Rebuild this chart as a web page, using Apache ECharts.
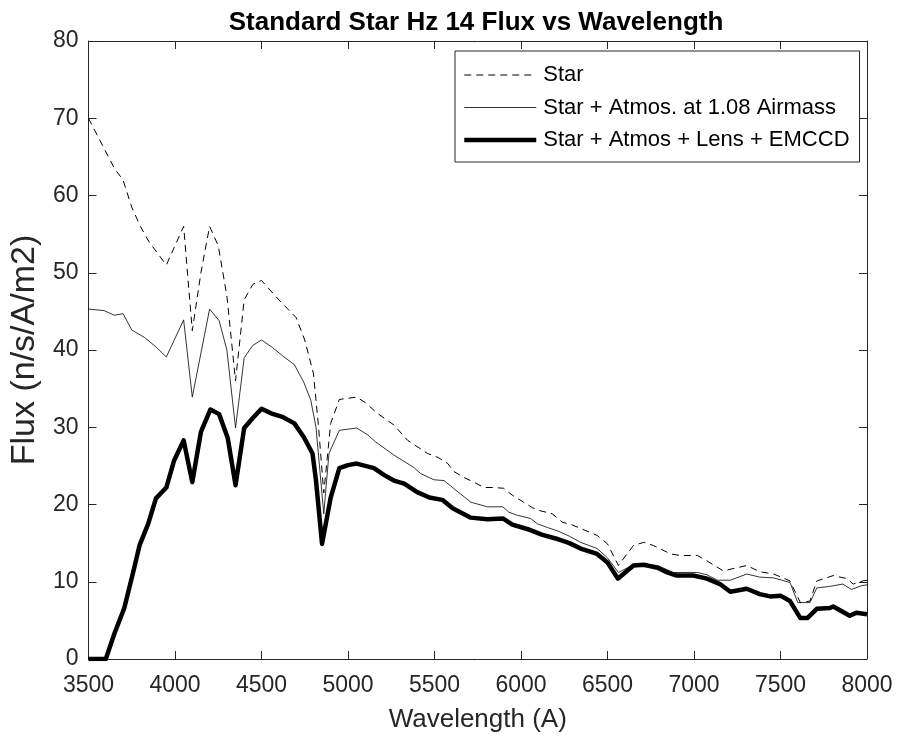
<!DOCTYPE html>
<html>
<head>
<meta charset="utf-8">
<script src="https://cdn.jsdelivr.net/npm/echarts@6/dist/echarts.min.js"></script>
<style>html,body{margin:0;padding:0;background:#fff}#c{width:899px;height:738px}</style>
</head>
<body>
<div id="c"></div>
<script>
const titleText = 'Standard Star Hz 14 Flux vs Wavelength';
const xName = 'Wavelength (A)';
const yName = 'Flux (n/s/A/m2)';
const seriesNames = ['Star', 'Star + Atmos. at 1.08 Airmass', 'Star + Atmos + Lens + EMCCD'];
const xTicks = [3500, 4000, 4500, 5000, 5500, 6000, 6500, 7000, 7500, 8000];
const yTicks = [0, 10, 20, 30, 40, 50, 60, 70, 80];

const starWl = [3500,3650,3700,3750,3800,3850,3900,3950,4000,4050,4100,4150,4200,4250,4300,4350,4400,4450,4500,4600,4700,4750,4800,4830,4860,4900,4950,5050,5100,5170,5265,5345,5460,5520,5577,5610,5670,5727,5785,5840,5900,5950,6015,6065,6110,6180,6240,6290,6345,6440,6500,6563,6650,6710,6765,6865,6920,7020,7075,7170,7225,7305,7380,7460,7515,7555,7615,7670,7710,7805,7885,7920,7975,8000];
const starFlux = [70.0,63.5,62.0,58.5,56.0,54.0,52.5,51.0,53.5,56.0,42.5,50.0,56.0,53.5,47.0,36.0,46.5,48.5,49.0,46.5,44.2,41.3,37.0,30.0,21.5,30.5,33.6,33.9,33.2,31.8,30.3,28.3,26.6,26.1,25.3,24.3,23.5,22.9,22.2,22.2,22.1,21.2,20.3,19.6,19.2,18.8,17.7,17.4,16.9,16.0,14.9,12.1,14.7,15.1,14.7,13.6,13.4,13.4,12.7,11.4,11.7,12.1,11.3,11.0,10.5,10.1,7.3,7.5,10.1,10.8,10.4,9.7,10.1,10.2];

const atmWl = [3500,3590,3650,3700,3750,3825,3890,3950,4050,4100,4200,4255,4300,4350,4400,4450,4500,4565,4630,4690,4745,4785,4815,4860,4890,4950,5050,5115,5160,5265,5315,5380,5420,5497,5555,5610,5710,5805,5895,5930,5980,6055,6095,6155,6210,6280,6345,6440,6500,6563,6650,6710,6790,6880,7020,7075,7135,7210,7305,7380,7460,7555,7600,7670,7710,7785,7860,7910,7970,8000];
const atmFlux = [45.3,45.1,44.5,44.7,42.6,41.6,40.4,39.1,43.9,33.9,45.3,43.8,40.0,29.9,39.0,40.6,41.3,40.3,39.1,38.1,35.8,33.5,30.0,18.8,26.6,29.6,29.9,29.0,28.1,26.4,25.7,24.8,24.0,23.2,23.1,22.1,20.3,19.7,19.7,19.0,18.6,18.2,17.5,17.0,16.6,15.9,15.1,14.3,13.1,11.2,12.2,12.3,12.1,11.2,11.2,10.9,10.2,10.2,11.0,10.6,10.5,9.9,7.3,7.3,9.2,9.4,9.7,9.0,9.5,9.6];

const detWl = [3500,3600,3650,3707,3760,3795,3845,3890,3950,3995,4050,4100,4150,4205,4255,4305,4350,4400,4450,4500,4555,4625,4690,4745,4795,4815,4850,4900,4950,5000,5050,5150,5210,5265,5325,5400,5470,5545,5605,5710,5805,5895,5950,6040,6120,6200,6280,6345,6440,6500,6560,6650,6710,6790,6845,6900,6995,7075,7150,7210,7305,7380,7440,7500,7555,7615,7655,7710,7785,7805,7900,7940,8000];
const detFlux = [0.0,0.0,3.3,6.6,11.4,14.7,17.5,20.8,22.2,25.7,28.3,22.9,29.4,32.3,31.7,28.6,22.5,29.9,31.2,32.4,31.8,31.3,30.5,28.7,26.6,23.1,14.9,20.9,24.7,25.1,25.3,24.7,23.8,23.1,22.7,21.6,20.9,20.6,19.5,18.3,18.1,18.2,17.4,16.8,16.1,15.6,15.0,14.3,13.6,12.5,10.4,12.1,12.2,11.8,11.2,10.8,10.8,10.4,9.7,8.7,9.1,8.4,8.1,8.2,7.5,5.3,5.3,6.5,6.6,6.8,5.6,6.0,5.8];

function pairs(xs, ys){ return xs.map((x,i)=>[x, ys[i]]); }

const FONT = 'Liberation Sans, Arial, Helvetica, sans-serif';
const AX = '#262626';
const chart = echarts.init(document.getElementById('c'), null, {renderer:'canvas'});
const xMin = xTicks[0], xMax = xTicks[xTicks.length-1], xInt = xTicks[1]-xTicks[0];
const yMin = yTicks[0], yMax = yTicks[yTicks.length-1], yInt = yTicks[1]-yTicks[0];
function xAx(pos, show){
  return {type:'value', position:pos, min:xMin, max:xMax, interval:xInt,
    axisLine:{show:true, onZero:false, lineStyle:{color:AX, width:1}},
    axisTick:{show:true, inside:true, length:8, lineStyle:{color:AX}},
    axisLabel:{show:show, color:AX, fontFamily:FONT, fontSize:23, margin:15,
      formatter:function(v){return String(v);}},
    splitLine:{show:false},
    name: show ? xName : '', nameLocation:'middle', nameGap:48,
    nameTextStyle:{color:AX, fontFamily:FONT, fontSize:26}};
}
function yAx(pos, show){
  return {type:'value', position:pos, min:yMin, max:yMax, interval:yInt,
    axisLine:{show:true, onZero:false, lineStyle:{color:AX, width:1}},
    axisTick:{show:true, inside:true, length:8, lineStyle:{color:AX}},
    axisLabel:{show:show, color:AX, fontFamily:FONT, fontSize:23, margin:10,
      formatter:function(v){return String(v);}},
    splitLine:{show:false},
    name: show ? yName : '', nameLocation:'middle', nameGap:39, nameRotate:90,
    nameTextStyle:{color:AX, fontFamily:FONT, fontSize:34}};
}
chart.setOption({
  animation:false,
  backgroundColor:'#fff',
  title:{text:titleText, left:471, top:5, textAlign:'center',
    textStyle:{fontFamily:FONT, fontSize:26, fontWeight:'bold', color:'#000'}},
  grid:{left:87, right:32, top:41, bottom:79, containLabel:false},
  xAxis:[xAx('bottom', true), xAx('top', false)],
  yAxis:[yAx('left', true), yAx('right', false)],
  legend:{orient:'vertical', left:455, top:51, padding:[13,10,11,7], itemGap:10.5,
    itemWidth:72, itemHeight:16, backgroundColor:'#fff',
    borderColor:AX, borderWidth:1, borderRadius:0,
    itemStyle:{opacity:0},
    textStyle:{fontFamily:FONT, fontSize:22, color:'#000', padding:[0,0,0,2]},
    data:[
      {name:seriesNames[0], lineStyle:{color:'#000', width:1, type:[7,5]}},
      {name:seriesNames[1], lineStyle:{color:'#000', width:0.8}},
      {name:seriesNames[2], lineStyle:{color:'#000', width:4.5}}
    ]},
  series:[
    {name:seriesNames[0], type:'line', data:pairs(starWl, starFlux), symbol:'none', silent:true,
      itemStyle:{color:'#000'}, lineStyle:{color:'#000', width:1, type:[7,5]}},
    {name:seriesNames[1], type:'line', data:pairs(atmWl, atmFlux), symbol:'none', silent:true,
      itemStyle:{color:'#000'}, lineStyle:{color:'#000', width:0.8}},
    {name:seriesNames[2], type:'line', data:pairs(detWl, detFlux), symbol:'none', silent:true,
      itemStyle:{color:'#000'}, lineStyle:{color:'#000', width:4.5, join:'round'}}
  ]
});
</script>
</body>
</html>
